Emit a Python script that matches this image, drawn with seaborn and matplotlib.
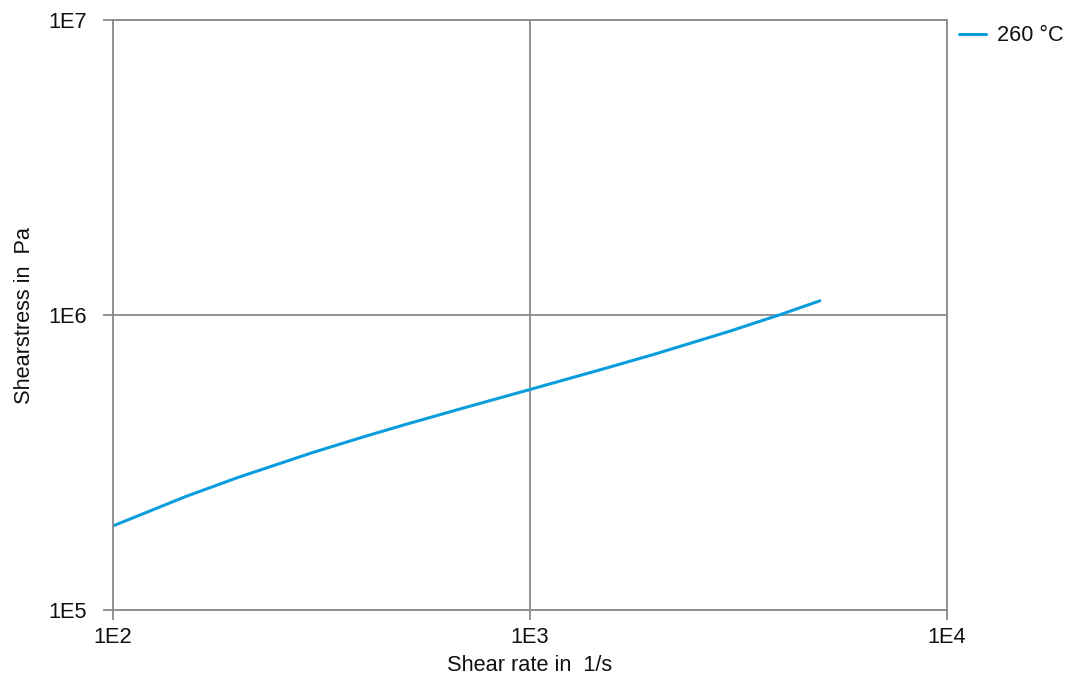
import matplotlib
matplotlib.use("Agg")
import matplotlib.pyplot as plt
import seaborn as sns
import pandas as pd
import numpy as np

shear_rate = [100, 150, 200, 300, 400, 500, 700, 1000, 1500, 2000, 3000, 4000, 4955]
shear_stress = [1.928e5, 2.430e5, 2.818e5, 3.412e5, 3.868e5, 4.245e5, 4.859e5,
                5.591e5, 6.566e5, 7.382e5, 8.796e5, 1.005e6, 1.117e6]
series_name = "260 °C"
x_ticks = [1e2, 1e3, 1e4]
x_tick_labels = ["1E2", "1E3", "1E4"]
y_ticks = [1e5, 1e6, 1e7]
y_tick_labels = ["1E5", "1E6", "1E7"]

sns.set_theme(style="white")
plt.rcParams['font.family'] = ['Liberation Sans', 'DejaVu Sans']

df = pd.DataFrame({"x": shear_rate, "y": shear_stress, "series": series_name})

fig = plt.figure(figsize=(10.72, 6.8), dpi=100)
ax = fig.add_axes([113/1072, 70/680, (947-113)/1072, (610-20)/680])

grid_c = "#8a8a8a"
fs = 15.7
sns.lineplot(data=df, x="x", y="y", hue="series", palette=["#0a9ddc"],
             linewidth=2.2, ax=ax)
ax.set_xscale("log")
ax.set_yscale("log")
ax.set_xlim(1e2, 1e4)
ax.set_ylim(1e5, 1e7)
ax.set_xticks(x_ticks)
ax.set_xticklabels(x_tick_labels)
ax.set_yticks(y_ticks)
ax.set_yticklabels(y_tick_labels)
ax.minorticks_off()
ax.grid(True, color=grid_c, linewidth=1.3)
for s in ax.spines.values():
    s.set_color(grid_c)
    s.set_linewidth(1.3)
ax.tick_params(axis="both", which="major", direction="out", length=7.5, width=1.3,
               color=grid_c, labelsize=fs, labelcolor="#111111",
               bottom=True, left=True)
ax.tick_params(axis="x", pad=5)
ax.tick_params(axis="y", pad=11)
ax.set_xlabel("Shear rate in  1/s", fontsize=fs, color="#111111", labelpad=5)
ax.set_ylabel("Shearstress in  Pa", fontsize=fs, color="#111111", labelpad=10)

leg = ax.legend(loc="upper left", bbox_to_anchor=(1.004, 1.006), frameon=False,
                fontsize=fs, handlelength=1.25, handletextpad=0.5, borderaxespad=0)
for t in leg.get_texts():
    t.set_color("#111111")

fig.savefig("out.png", dpi=100)
